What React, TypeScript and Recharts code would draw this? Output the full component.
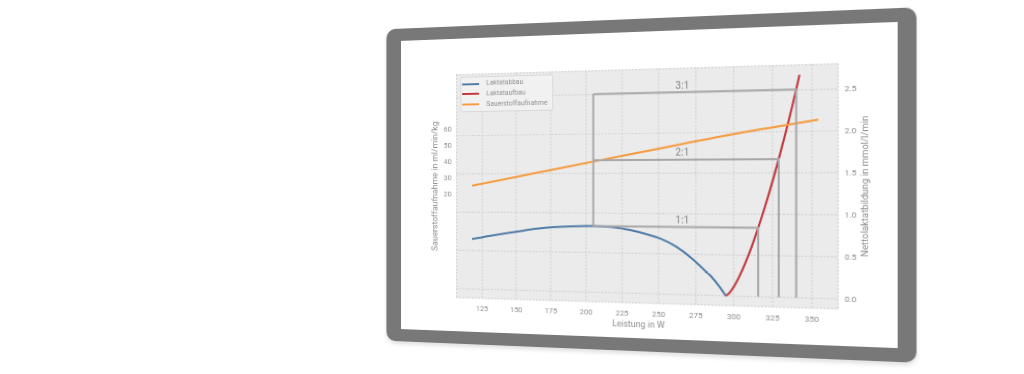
import React from 'react';
import { ComposedChart, Line, XAxis, YAxis, CartesianGrid, Legend, ReferenceDot } from 'recharts';

// Laktatabbau (blue) – right axis, mmol/l/min
const abbauX = [117.5, 130, 142, 153, 165, 177, 190, 200, 205, 215, 223.5, 232, 241, 251, 262, 273, 280, 285, 290, 294.8];
const abbauY = [0.65, 0.693, 0.73, 0.762, 0.795, 0.818, 0.831, 0.835, 0.835, 0.83, 0.815, 0.785, 0.745, 0.69, 0.59, 0.44, 0.32, 0.235, 0.125, 0];

// Laktataufbau (red) – right axis
const aufbauX = [294.8, 297, 300, 305, 310, 315.8, 320, 325, 329, 333, 337, 340.1, 342.2];
const aufbauY = [0, 0.033, 0.113, 0.296, 0.524, 0.835, 1.08, 1.398, 1.67, 1.956, 2.256, 2.505, 2.68];

// Sauerstoffaufnahme (orange) – left axis, ml/min/kg
const o2X = [117.5, 150, 175, 205, 235, 265, 300, 320, 338, 354];
const o2Y = [24.9, 30.2, 34.3, 39.2, 44.1, 49.0, 54.6, 57.4, 59.8, 62.0];

// ratio annotations
const ratioLabels = ['1:1', '2:1', '3:1'];
const ratioLevels = [0.835, 1.67, 2.505];
const ratioX = [315.8, 329, 340.1];
const ratioStartX = 205;
const ratioLabelX = 266;

const xTicks = [125, 150, 175, 200, 225, 250, 275, 300, 325, 350];
const rightTicks = [0, 0.5, 1, 1.5, 2, 2.5];
const leftTicks = [20, 30, 40, 50, 60];

const seriesNames = ['Laktatabbau', 'Laktataufbau', 'Sauerstoffaufnahme'];

const abbauData = abbauX.map((x, i) => ({ x, y: abbauY[i] }));
const aufbauData = aufbauX.map((x, i) => ({ x, y: aufbauY[i] }));
const o2Data = o2X.map((x, i) => ({ x, y: o2Y[i] }));
const ratioData = ratioLevels.map((lv, i) => [
  { x: ratioStartX, y: lv },
  { x: ratioX[i], y: lv },
  { x: ratioX[i], y: 0 },
]);
const verticalData = [
  { x: ratioStartX, y: ratioLevels[0] },
  { x: ratioStartX, y: ratioLevels[2] },
];

const TXT = '#8e8e8e';
const ANN = '#a8a8a8';

const renderLegend = (props: any) => {
  const items = (props.payload || []).filter((p: any) => p.type !== 'none');
  return (
    <div
      style={{
        width: 102,
        height: 37.4,
        boxSizing: 'border-box',
        background: '#f1f1f1',
        border: '1px solid #d8d8d8',
        borderRadius: 2,
        paddingTop: 1.5,
        fontFamily: 'Roboto',
      }}
    >
      {items.map((it: any) => (
        <div key={it.value} style={{ display: 'flex', alignItems: 'center', height: 10.7 }}>
          <div style={{ width: 19, height: 2, background: it.color, marginLeft: 0.8, marginRight: 8.5 }} />
          <span style={{ fontSize: 7.3, color: TXT, lineHeight: '10.7px', whiteSpace: 'nowrap' }}>{it.value}</span>
        </div>
      ))}
    </div>
  );
};

export default function App() {
  return (
    <div style={{ position: 'absolute', left: 0, top: 0, width: 1024, height: 374, background: '#fff', overflow: 'hidden' }}>
      <div
        style={{
          position: 'absolute',
          left: 362.2,
          top: 19.25,
          width: 544,
          height: 331.5,
          boxSizing: 'border-box',
          borderStyle: 'solid',
          borderColor: '#787878',
          borderWidth: '13px 17px',
          borderRadius: 10,
          background: '#fff',
          transform: 'perspective(1000px) rotateY(-14.03deg)',
          transformOrigin: '50% 50%',
          boxShadow: '0 3px 4px rgba(0,0,0,0.12)',
        }}
      >
        <ComposedChart
          width={510}
          height={305}
          margin={{ top: 37.6, right: 0, bottom: 0, left: 0 }}
          style={{ fontFamily: 'Roboto' }}
        >
          <CartesianGrid
            yAxisId="right"
            fill="#ebebeb"
            fillOpacity={1}
            stroke="#d3d3d3"
            strokeDasharray="2 1.5"
            strokeWidth={1.2}
          />
          <XAxis
            dataKey="x"
            type="number"
            domain={[105.9, 366.4]}
            ticks={xTicks}
            allowDataOverflow
            axisLine={false}
            tickLine={false}
            tickSize={0}
            tickMargin={7}
            height={34.1}
            tick={{ fill: TXT, fontSize: 8 }}
            label={{ value: 'Leistung in W', position: 'center', dy: 3.6, fill: TXT, fontSize: 9 }}
          />
          <YAxis
            yAxisId="left"
            orientation="left"
            type="number"
            width={63.6}
            domain={[-43.9, 93.1]}
            ticks={leftTicks}
            allowDataOverflow
            axisLine={false}
            tickLine={false}
            tickSize={0}
            tickMargin={5.6}
            tick={{ fill: TXT, fontSize: 8 }}
            label={{ value: 'Sauerstoffaufnahme in ml/min/kg', angle: -90, position: 'center', dx: 7.1, fill: TXT, fontSize: 9 }}
          />
          <YAxis
            yAxisId="right"
            orientation="right"
            type="number"
            width={54.8}
            domain={[-0.12, 2.8]}
            ticks={rightTicks}
            allowDataOverflow
            axisLine={false}
            tickLine={false}
            tickSize={0}
            tickMargin={6}
            tickFormatter={(v: number) => v.toFixed(1)}
            tick={{ fill: TXT, fontSize: 8 }}
            label={{ value: 'Nettolaktatbildung in mmol/l/min', angle: -90, position: 'center', dx: -2.7, fill: TXT, fontSize: 9 }}
          />
          <Line
            yAxisId="right"
            data={abbauData}
            dataKey="y"
            name={seriesNames[0]}
            type="monotone"
            stroke="#4f7ba6"
            strokeWidth={2}
            dot={false}
            isAnimationActive={false}
          />
          <Line
            yAxisId="right"
            data={aufbauData}
            dataKey="y"
            name={seriesNames[1]}
            type="monotone"
            stroke="#c0363b"
            strokeWidth={2}
            dot={false}
            isAnimationActive={false}
          />
          <Line
            yAxisId="left"
            data={o2Data}
            dataKey="y"
            name={seriesNames[2]}
            type="monotone"
            stroke="#f59a3e"
            strokeWidth={2}
            dot={false}
            isAnimationActive={false}
          />
          {ratioData.map((d, i) => (
            <Line
              key={ratioLabels[i]}
              yAxisId="right"
              data={d}
              dataKey="y"
              name={ratioLabels[i]}
              type="linear"
              stroke={ANN}
              strokeWidth={2}
              dot={false}
              legendType="none"
              isAnimationActive={false}
            />
          ))}
          <Line
            yAxisId="right"
            data={verticalData}
            dataKey="y"
            name="vertical"
            type="linear"
            stroke={ANN}
            strokeWidth={2}
            dot={false}
            legendType="none"
            isAnimationActive={false}
          />
          {ratioLevels.map((lv, i) => (
            <ReferenceDot
              key={'lbl' + i}
              yAxisId="right"
              x={ratioLabelX}
              y={lv}
              r={0}
              fill="none"
              stroke="none"
              label={{ value: ratioLabels[i], position: 'top', offset: 3.5, fill: '#9a9a9a', fontSize: 10, fontWeight: 500 }}
            />
          ))}
          <Legend
            layout="horizontal"
            verticalAlign="middle"
            align="center"
            width={102}
            content={renderLegend}
            wrapperStyle={{ left: 67.8, top: 39.8, width: 102, height: 37.4 }}
          />
        </ComposedChart>
      </div>
    </div>
  );
}
